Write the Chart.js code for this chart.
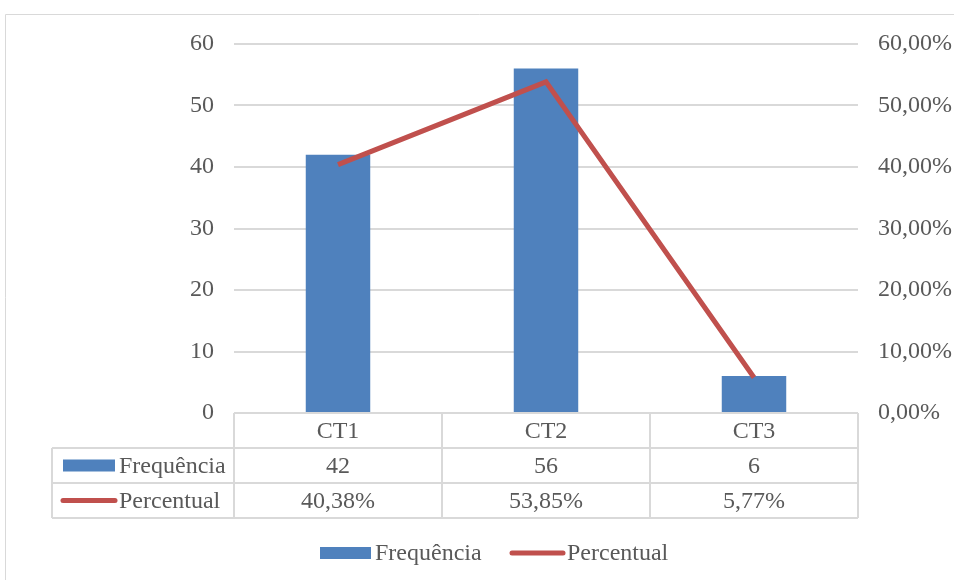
<!DOCTYPE html>
<html lang="pt">
  <head>
    <meta charset="UTF-8" />
    <title>Frequência e Percentual</title>
    <script src="https://cdn.jsdelivr.net/npm/chart.js"></script>
    <style>
      body {
        margin: 0;
        background: #ffffff;
      }
      #wrap {
        position: relative;
        width: 954px;
        height: 580px;
      }
    </style>
  </head>
  <body>
    <div id="wrap"><canvas id="chart" width="954" height="580"></canvas></div>

    <script>
      // chart data
      const categories = ['CT1', 'CT2', 'CT3']
      const frequencia = [42, 56, 6]
      const percentual = [40.38, 53.85, 5.77]
      const seriesNames = ['Frequência', 'Percentual']
      const freqLabels = ['42', '56', '6']
      const pctLabels = ['40,38%', '53,85%', '5,77%']

      const BLUE = '#4F81BD'
      const RED = '#C0504D'
      const GRID = '#d9d9d9'
      const TEXT = '#595959'
      const FONT = '"Liberation Serif", "Times New Roman", serif'
      const FS = 24

      function pctFmt(v) {
        return v.toFixed(2).replace('.', ',') + '%'
      }

      // frame, data table and legend drawn around the plot
      const tablePlugin = {
        id: 'dataTable',
        afterDraw(chart) {
          const ctx = chart.ctx
          const x = chart.scales.x
          const area = chart.chartArea
          const half = (x.getPixelForValue(1) - x.getPixelForValue(0)) / 2
          const left = area.left
          const right = area.right
          const rows = [area.bottom, area.bottom + 35, area.bottom + 70, area.bottom + 105]
          const keyLeft = 52

          ctx.save()
          // outer frame
          ctx.strokeStyle = GRID
          ctx.lineWidth = 1
          ctx.beginPath()
          ctx.moveTo(5.5, 580)
          ctx.lineTo(5.5, 14.5)
          ctx.lineTo(954, 14.5)
          ctx.stroke()

          // table lines
          ctx.lineWidth = 2
          ctx.beginPath()
          ctx.moveTo(left, rows[0]); ctx.lineTo(right, rows[0])
          ctx.moveTo(keyLeft, rows[1]); ctx.lineTo(right, rows[1])
          ctx.moveTo(keyLeft, rows[2]); ctx.lineTo(right, rows[2])
          ctx.moveTo(keyLeft, rows[3]); ctx.lineTo(right, rows[3])
          ctx.moveTo(keyLeft, rows[1]); ctx.lineTo(keyLeft, rows[3])
          ctx.moveTo(left, rows[0]); ctx.lineTo(left, rows[3])
          categories.forEach((c, i) => {
            const xr = x.getPixelForValue(i) + half
            ctx.moveTo(xr, rows[0]); ctx.lineTo(xr, rows[3])
          })
          ctx.stroke()

          // table text
          ctx.fillStyle = TEXT
          ctx.font = FS + 'px ' + FONT
          ctx.textAlign = 'center'
          ctx.textBaseline = 'middle'
          categories.forEach((c, i) => {
            const cx = x.getPixelForValue(i)
            ctx.fillText(c, cx, (rows[0] + rows[1]) / 2 + 1)
            ctx.fillText(freqLabels[i], cx, (rows[1] + rows[2]) / 2 + 1)
            ctx.fillText(pctLabels[i], cx, (rows[2] + rows[3]) / 2 + 1)
          })

          // row keys
          ctx.textAlign = 'left'
          ctx.fillStyle = BLUE
          ctx.fillRect(63, (rows[1] + rows[2]) / 2 - 6, 52, 12)
          ctx.strokeStyle = RED
          ctx.lineWidth = 5
          ctx.lineCap = 'round'
          ctx.beginPath()
          ctx.moveTo(63, (rows[2] + rows[3]) / 2)
          ctx.lineTo(115, (rows[2] + rows[3]) / 2)
          ctx.stroke()
          ctx.fillStyle = TEXT
          ctx.fillText(seriesNames[0], 119, (rows[1] + rows[2]) / 2 + 1)
          ctx.fillText(seriesNames[1], 119, (rows[2] + rows[3]) / 2 + 1)

          // bottom legend
          const ly = 553
          ctx.fillStyle = BLUE
          ctx.fillRect(320, ly - 6, 51, 12)
          ctx.beginPath()
          ctx.moveTo(512, ly)
          ctx.lineTo(563, ly)
          ctx.stroke()
          ctx.fillStyle = TEXT
          ctx.fillText(seriesNames[0], 375, ly + 1)
          ctx.fillText(seriesNames[1], 567, ly + 1)
          ctx.restore()
        },
      }

      new Chart(document.getElementById('chart'), {
        data: {
          labels: categories,
          datasets: [
            {
              type: 'line',
              label: seriesNames[1],
              data: percentual,
              yAxisID: 'y1',
              borderColor: RED,
              borderWidth: 5,
              pointRadius: 0,
              tension: 0,
              order: 0,
            },
            {
              type: 'bar',
              label: seriesNames[0],
              data: frequencia,
              yAxisID: 'y',
              backgroundColor: BLUE,
              categoryPercentage: 1,
              barPercentage: 0.31,
              order: 1,
            },
          ],
        },
        options: {
          responsive: false,
          animation: false,
          layout: { padding: { top: 44, bottom: 167, left: 0, right: 0 } },
          plugins: {
            legend: { display: false },
            tooltip: { enabled: false },
          },
          scales: {
            x: { display: false },
            y: {
              position: 'left',
              min: 0,
              max: 60,
              ticks: {
                stepSize: 10,
                color: TEXT,
                padding: 20,
                font: { family: FONT, size: FS },
              },
              border: { display: false },
              grid: { color: GRID, lineWidth: 2, drawTicks: false },
              afterFit(s) { s.width = 234 },
            },
            y1: {
              position: 'right',
              min: 0,
              max: 60,
              ticks: {
                stepSize: 10,
                color: TEXT,
                padding: 20,
                font: { family: FONT, size: FS },
                callback: (v) => pctFmt(v),
              },
              border: { display: false },
              grid: { display: false, drawTicks: false },
              afterFit(s) { s.width = 96 },
            },
          },
        },
        plugins: [tablePlugin],
      })
    </script>
  </body>
</html>
